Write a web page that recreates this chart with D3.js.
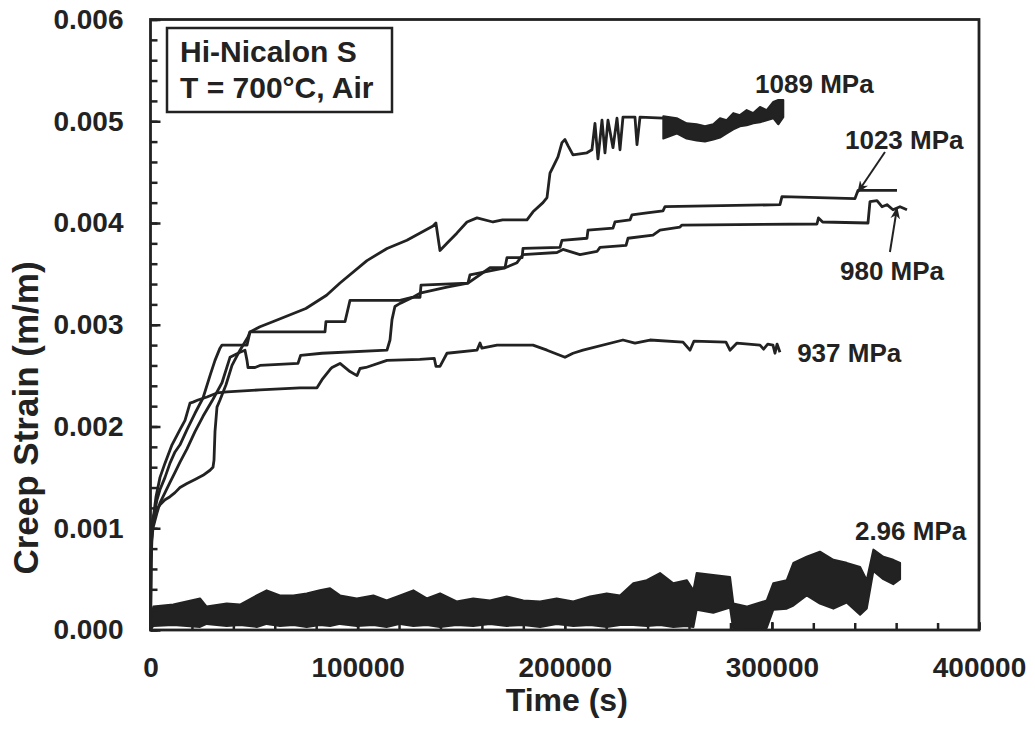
<!DOCTYPE html>
<html>
<head>
<meta charset="utf-8">
<script src="https://d3js.org/d3.v7.min.js"></script>
<style>
body { margin: 0; background: #fff; }
svg { display: block; }
text { font-family: "Liberation Sans", Arial, sans-serif; font-weight: bold; fill: #222; }
</style>
</head>
<body>
<div id="chart"></div>
<script>

////////////////////////////////
//////  data (read off)  ///////
////////////////////////////////

// [time (s), creep strain (m/m)]
var s1089 = [[0,0],[240,0.00075],[720,0.00095],[1200,0.00108],[2200,0.00118],[3140,0.00128],[4590,0.00138],
  [7000,0.00150],[9410,0.00164],[11830,0.00175],[14240,0.00182],[17620,0.00197],[21480,0.00213],[25350,0.00228],
  [28730,0.00250],[31140,0.00265],[33550,0.00277],[34520,0.00280],[46590,0.00280],[48040,0.00293],[52860,0.00298],
  [59000,0.00303],[75000,0.00316],[85000,0.00329],[91500,0.00341],[104500,0.00363],[114200,0.00375],[123800,0.00383],
  [136400,0.00397],[137800,0.00400],[139760,0.00373],[143140,0.00380],[147900,0.00390],[152800,0.00401],[157630,0.00405],
  [165360,0.00401],[170000,0.00403],[181770,0.00403],[184670,0.00411],[189490,0.00420],[191430,0.00425],[192870,0.00449],
  [194320,0.00455],[196730,0.00465],[198660,0.00479],[200110,0.00482],[201560,0.00476],[203970,0.00467],[210730,0.00469],
  [213140,0.00472],[214590,0.00498],[216040,0.00463],[217980,0.00501],[219420,0.00469],[220870,0.00501],[223290,0.00474],
  [225220,0.00503],[226670,0.00472],[228110,0.00504],[233910,0.00504],[234880,0.00477],[236330,0.00504],[247430,0.00503]];

// noisy tail of 1089 MPa: upper / lower edge of the band
var t1089band = [247580,254050,258860,263700,267700,271720,274940,278180,281380,284570,287850,291030,294260,297500,300690,303100,305510];
var hi1089band = [0.00505,0.00503,0.00498,0.00497,0.00495,0.00497,0.00503,0.00501,0.00508,0.00506,0.00511,0.00508,0.00514,0.00511,0.00519,0.00521,0.00521];
var lo1089band = [0.00483,0.00488,0.00483,0.00481,0.00480,0.00482,0.00484,0.00488,0.00492,0.00495,0.00496,0.00498,0.00499,0.00501,0.00503,0.00497,0.00504];

var s1023 = [[0,0],[240,0.00070],[720,0.00098],[1200,0.00110],[2660,0.00118],[4590,0.00123],[7000,0.00128],[9410,0.00131],
  [11830,0.00135],[14240,0.00140],[17620,0.00144],[21480,0.00148],[25350,0.00152],[28730,0.00157],[30170,0.00160],
  [30660,0.00167],[31140,0.00195],[32100,0.00219],[33550,0.00226],[36450,0.00241],[39350,0.00260],[43210,0.00275],
  [47070,0.00288],[48040,0.00293],[84250,0.00293],[84700,0.00303],[93900,0.00303],[96320,0.00324],[120460,0.00324],
  [126250,0.00327],[130110,0.00327],[130600,0.00339],[153280,0.00341],[154250,0.00349],[171150,0.00356],[172120,0.00366],
  [179400,0.00366],[179840,0.00375],[197700,0.00376],[198660,0.00383],[210730,0.00385],[211210,0.00393],[223290,0.00395],
  [224250,0.00401],[231500,0.00403],[232460,0.00408],[239710,0.00410],[247430,0.00412],[248390,0.00416],[303910,0.00418],
  [304870,0.00426],[340120,0.00424],[341570,0.00432],[360400,0.00432]];

var s980 = [[0,0],[240,0.00065],[720,0.00090],[1200,0.00100],[2200,0.00108],[3140,0.00115],[4590,0.00125],[7000,0.00135],
  [9410,0.00145],[11830,0.00155],[14240,0.00165],[17620,0.00178],[21480,0.00195],[25350,0.00210],[29690,0.00225],
  [34520,0.00243],[38380,0.00268],[43210,0.00273],[45620,0.00275],[46590,0.00265],[47070,0.00258],[50450,0.00258],
  [52860,0.00260],[71210,0.00262],[72500,0.00270],[82800,0.00272],[114180,0.00275],[115630,0.00285],[116600,0.00305],
  [118000,0.00318],[120460,0.00321],[126730,0.00327],[130110,0.00331],[143140,0.00337],[153280,0.00341],[163910,0.00356],
  [171150,0.00356],[176950,0.00361],[179840,0.00369],[196250,0.00371],[199140,0.00374],[207350,0.00369],[215560,0.00372],
  [217010,0.00376],[229600,0.00378],[230530,0.00385],[242600,0.00388],[245980,0.00393],[255630,0.00396],[256600,0.00398],
  [321770,0.00399],[322500,0.00405],[324500,0.00401],[346400,0.00400],[347370,0.00421],[350750,0.00422],[353160,0.00416],
  [355570,0.00418],[358470,0.00413],[361850,0.00416],[365230,0.00413]];

var s937 = [[0,0],[240,0.00069],[720,0.00100],[1200,0.00108],[2660,0.00131],[4590,0.00150],[7000,0.00164],[10380,0.00182],
  [14240,0.00197],[16660,0.00206],[19070,0.00223],[20520,0.00224],[22930,0.00226],[27280,0.00229],[32100,0.00233],
  [36930,0.00234],[52860,0.00236],[72180,0.00238],[80380,0.00238],[82800,0.00246],[86660,0.00256],[87630,0.00258],
  [91490,0.00262],[96320,0.00254],[99700,0.00250],[101150,0.00257],[104000,0.00258],[114180,0.00265],[130000,0.00266],
  [137000,0.00267],[137830,0.00259],[139760,0.00259],[143140,0.00272],[157630,0.00275],[159080,0.00282],[160000,0.00277],
  [167290,0.00280],[184670,0.00280],[191430,0.00275],[200110,0.00268],[204000,0.00272],[208800,0.00275],[228110,0.00285],
  [233910,0.00282],[241150,0.00285],[257080,0.00283],[260460,0.00275],[262400,0.00284],[277840,0.00283],[279770,0.00275],
  [283150,0.00282],[294260,0.00280],[296000,0.00276],[298000,0.00281],[300530,0.00280],[301500,0.00272],[302500,0.00281],
  [303900,0.00273]];

// 2.96 MPa: very noisy, kept as upper / lower edge of the band
var t296 = [0,1350,11000,23900,27100,36800,43200,51300,56100,62500,69000,75400,81800,86700,91500,99600,107600,114000,
  120500,126900,133400,139800,147800,155800,163900,172000,180000,188100,196100,204100,212200,220300,226700,233100,239600,
  246000,252400,258900,262100,263700,271700,279800,281400,287800,297500,300700,307200,310400,316800,323200,329700,336100,
  342600,345800,349000,353800,358600,361900];
var hi296 = [0.00010,0.00023,0.00025,0.00031,0.00023,0.00026,0.00025,0.00034,0.00039,0.00034,0.00034,0.00036,0.00039,
  0.00041,0.00034,0.00031,0.00034,0.00029,0.00034,0.00039,0.00031,0.00036,0.00028,0.00031,0.00029,0.00033,0.00029,0.00028,
  0.00031,0.00028,0.00033,0.00036,0.00034,0.00046,0.00049,0.00056,0.00046,0.00049,0.00039,0.00056,0.00054,0.00052,0.00026,
  0.00023,0.00029,0.00046,0.00049,0.00066,0.00072,0.00077,0.00069,0.00066,0.00062,0.00049,0.00079,0.00072,0.00069,0.00066];
var lo296 = [0,0.00004,0.00005,0.00003,0.00006,0.00004,0.00005,0.00003,0.00006,0.00004,0.00005,0.00003,0.00005,0.00004,
  0.00006,0.00004,0.00005,0.00003,0.00006,0.00004,0.00005,0.00003,0.00005,0.00004,0.00006,0.00004,0.00005,0.00003,0.00006,
  0.00004,0.00005,0.00003,0.00005,0.00005,0.00004,0.00005,0.00003,0.00004,0.00003,0.00020,0.00017,0.00022,0,0,0.00002,
  0.00020,0.00021,0.00024,0.00034,0.00026,0.00021,0.00027,0.00015,0.00021,0.00058,0.00050,0.00045,0.00050];

// tick values
var xTicks = [0, 100000, 200000, 300000, 400000];
var yTicks = [0, 0.001, 0.002, 0.003, 0.004, 0.005, 0.006];

// curve labels, anchored in data units
var curveLabels = [
  {text: "1089 MPa", t: 291900, s: 0.005278},
  {text: "1023 MPa", t: 335300, s: 0.004727},
  {text: "980 MPa",  t: 332900, s: 0.003440},
  {text: "937 MPa",  t: 312200, s: 0.002634},
  {text: "2.96 MPa", t: 340100, s: 0.000884}
];
var arrows = [
  {t0: 354600, s0: 0.004698, t1: 341570, s1: 0.004305},
  {t0: 357000, s0: 0.003715, t1: 360400, s1: 0.004147}
];

////////////////////////////////
//////  chart  /////////////////
////////////////////////////////

var width = 1035, height = 729;
var ink = "#222";

var svg = d3.select("#chart").append("svg").attr("width", width).attr("height", height);

var x = d3.scaleLinear().domain([0, 400000]).range([150.5, 979]);
var y = d3.scaleLinear().domain([0, 0.006]).range([630, 19.5]);

var line = d3.line().x(d => x(d[0])).y(d => y(d[1]));

// curves
[s1089, s1023, s980, s937].forEach(function(ser) {
  svg.append("path").datum(ser)
    .attr("d", line)
    .attr("fill", "none")
    .attr("stroke", ink)
    .attr("stroke-width", 2.8)
    .attr("stroke-linejoin", "round");
});

// noisy bands
var band = d3.area().x(d => x(d.t)).y0(d => y(d.lo)).y1(d => y(d.hi));
function zipBand(ts, his, los) {
  return ts.map((t, i) => ({t: t, hi: his[i], lo: los[i]}));
}
[zipBand(t1089band, hi1089band, lo1089band), zipBand(t296, hi296, lo296)].forEach(function(b) {
  svg.append("path").datum(b)
    .attr("d", band)
    .attr("fill", ink)
    .attr("stroke", ink)
    .attr("stroke-width", 2)
    .attr("stroke-linejoin", "round");
});

// axes, ticks pointing inward
var yAxis = d3.axisLeft(y).tickValues(yTicks).tickFormat(d3.format(".3f"))
  .tickSizeInner(-10).tickSizeOuter(0).tickPadding(27);
var yMinor = d3.axisLeft(y).tickValues(d3.range(0, 0.0060001, 0.0002)).tickFormat("")
  .tickSizeInner(-7).tickSizeOuter(0);
var xAxis = d3.axisBottom(x).tickValues(xTicks).tickFormat(d3.format("d"))
  .tickSizeInner(-8).tickSizeOuter(0).tickPadding(27);
var xMinor = d3.axisBottom(x).tickValues(d3.range(0, 400001, 20000)).tickFormat("")
  .tickSizeInner(-7).tickSizeOuter(0);

var gy = svg.append("g").attr("transform", "translate(" + x(0) + ",0)").call(yAxis);
var gym = svg.append("g").attr("transform", "translate(" + x(0) + ",0)").call(yMinor);
var gx = svg.append("g").attr("transform", "translate(0," + y(0) + ")").call(xAxis);
var gxm = svg.append("g").attr("transform", "translate(0," + y(0) + ")").call(xMinor);

[gy, gym, gx, gxm].forEach(function(g) {
  g.select(".domain").remove();
  g.selectAll(".tick line").attr("stroke", ink).attr("stroke-width", 2.5);
  g.selectAll(".tick text").attr("fill", ink).style("font-size", "28px")
    .style("font-family", "'Liberation Sans', Arial, sans-serif").style("font-weight", "bold");
});

// plot frame
svg.append("rect")
  .attr("x", x(0)).attr("y", y(0.006))
  .attr("width", x(400000) - x(0)).attr("height", y(0) - y(0.006))
  .attr("fill", "none").attr("stroke", ink).attr("stroke-width", 2.8);

// axis titles
svg.append("text")
  .attr("x", (x(0) + x(400000)) / 2 + 2).attr("y", 711)
  .attr("text-anchor", "middle").style("font-size", "32px")
  .text("Time (s)");

svg.append("text")
  .attr("transform", "translate(38,418) rotate(-90)")
  .attr("text-anchor", "middle").style("font-size", "35px")
  .text("Creep Strain (m/m)");

// legend box
svg.append("rect")
  .attr("x", 167).attr("y", 28).attr("width", 225).attr("height", 84)
  .attr("fill", "#fff").attr("stroke", ink).attr("stroke-width", 2.5);
svg.append("text").attr("x", 180).attr("y", 62).style("font-size", "30px").text("Hi-Nicalon S");
svg.append("text").attr("x", 180).attr("y", 98).style("font-size", "30px").text("T = 700°C, Air");

// curve labels + arrows
svg.append("defs").append("marker")
  .attr("id", "head").attr("viewBox", "0 0 10 10")
  .attr("refX", 9).attr("refY", 5)
  .attr("markerWidth", 6).attr("markerHeight", 6)
  .attr("orient", "auto")
  .append("path").attr("d", "M0,1 L10,5 L0,9 L3,5 Z").attr("fill", ink);

svg.selectAll(".alabel").data(curveLabels).enter()
  .append("text").attr("class", "alabel")
  .attr("x", d => x(d.t)).attr("y", d => y(d.s))
  .style("font-size", "26px")
  .text(d => d.text);

svg.selectAll(".arrow").data(arrows).enter()
  .append("line").attr("class", "arrow")
  .attr("x1", d => x(d.t0)).attr("y1", d => y(d.s0))
  .attr("x2", d => x(d.t1)).attr("y2", d => y(d.s1))
  .attr("stroke", ink).attr("stroke-width", 2)
  .attr("marker-end", "url(#head)");

</script>
</body>
</html>
